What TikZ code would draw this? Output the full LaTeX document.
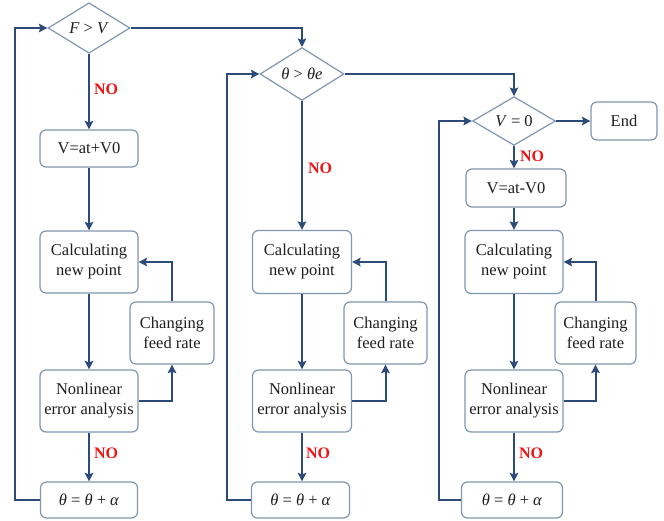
\documentclass[tikz,border=0pt]{standalone}
\usepackage{fontspec}
\setmainfont{Liberation Serif}
\usetikzlibrary{shapes.geometric,arrows.meta}
\definecolor{lnavy}{RGB}{44,74,122}
\definecolor{bord}{RGB}{128,150,178}
\definecolor{txt}{RGB}{30,30,30}
\definecolor{nored}{RGB}{240,20,20}
\begin{document}
\begin{tikzpicture}[x=1pt,y=-1pt,
 box/.style={draw=bord,line width=1.2pt,rounded corners=6pt,fill=white,text=txt,align=center,inner sep=0pt,font=\fontsize{16.5}{20}\selectfont},
 dia/.style={diamond,draw=bord,line width=1.2pt,inner sep=0pt,fill=white,text=txt,font=\fontsize{16.5}{19}\selectfont},
 conn/.style={draw=lnavy,line width=2pt,-{Stealth[length=8.5pt,width=8.5pt,inset=1.5pt]}},
 nolab/.style={text=nored,font=\bfseries\fontsize{16}{18}\selectfont,inner sep=0pt}]
\useasboundingbox[fill=white] (0,0) rectangle (664,520);

% column 1
\node[dia,minimum width=82pt,minimum height=47pt] (d1) at (89,28) {\textit{F} > \textit{V}};
\node[box,minimum width=98pt,minimum height=37pt] (b1) at (89,148.5) {V=at+V0};
\node[box,minimum width=98pt,minimum height=62pt] (calc1) at (89,262) {Calculating\\new point};
\node[box,minimum width=84pt,minimum height=62pt] (chg1) at (172,333) {Changing\\feed rate};
\node[box,minimum width=98pt,minimum height=62pt] (non1) at (89,401) {Nonlinear\\error analysis};
\node[box,minimum width=97pt,minimum height=36pt] (th1) at (89,500) {\textit{θ} = \textit{θ} + \textit{α}};
\coordinate (l1) at (15,28);

% column 2
\node[dia,minimum width=84pt,minimum height=48pt] (d2) at (302,74) {\textit{θ} > \textit{θe}};
\node[box,minimum width=99pt,minimum height=63pt] (calc2) at (302,262) {Calculating\\new point};
\node[box,minimum width=83pt,minimum height=62pt] (chg2) at (385.5,333) {Changing\\feed rate};
\node[box,minimum width=99pt,minimum height=62pt] (non2) at (302,401) {Nonlinear\\error analysis};
\node[box,minimum width=98pt,minimum height=36pt] (th2) at (300.5,500) {\textit{θ} = \textit{θ} + \textit{α}};
\coordinate (l2) at (227,74);

% column 3
\node[dia,minimum width=83pt,minimum height=46pt] (d3) at (514,121) {\textit{V} = 0};
\node[box,minimum width=66pt,minimum height=38pt] (end) at (624,121) {End};
\node[box,minimum width=100pt,minimum height=38pt] (b3) at (516,188) {V=at-V0};
\node[box,minimum width=98pt,minimum height=63pt] (calc3) at (514,262) {Calculating\\new point};
\node[box,minimum width=81pt,minimum height=62pt] (chg3) at (595.5,333) {Changing\\feed rate};
\node[box,minimum width=98pt,minimum height=62pt] (non3) at (514,401) {Nonlinear\\error analysis};
\node[box,minimum width=101pt,minimum height=36pt] (th3) at (512,500) {\textit{θ} = \textit{θ} + \textit{α}};
\coordinate (l3) at (439,121);

% connectors column 1
\draw[conn] (d1.south) -- (b1.north);
\draw[conn] (b1.south) -- (calc1.north);
\draw[conn] (calc1.south) -- (non1.north);
\draw[conn] (non1.south) -- (th1.north);
\draw[conn] (non1.east) -| (chg1.south);
\draw[conn] (chg1.north) |- (calc1.east);
\draw[conn] (th1.west) -- (th1.west -| l1) -- (l1) -- (d1.west);
\draw[conn] (d1.east) -| (d2.north);

% connectors column 2
\draw[conn] (d2.south) -- (calc2.north);
\draw[conn] (calc2.south) -- (non2.north);
\draw[conn] (non2.south) -- (non2.south |- th2.north);
\draw[conn] (non2.east) -| (chg2.south);
\draw[conn] (chg2.north) |- (calc2.east);
\draw[conn] (th2.west) -- (th2.west -| l2) -- (l2) -- (d2.west);
\draw[conn] (d2.east) -| (d3.north);

% connectors column 3
\draw[conn] (d3.east) -- (end.west);
\draw[conn] (d3.south) -- (d3.south |- b3.north);
\draw[conn] (d3.south |- b3.south) -- (calc3.north);
\draw[conn] (calc3.south) -- (non3.north);
\draw[conn] (non3.south) -- (non3.south |- th3.north);
\draw[conn] (non3.east) -| (chg3.south);
\draw[conn] (chg3.north) |- (calc3.east);
\draw[conn] (th3.west) -- (th3.west -| l3) -- (l3) -- (d3.west);

% NO labels
\node[nolab] (no1) at (106,89) {NO};
\node[nolab] (no2) at (106,453) {NO};
\node[nolab] (no3) at (320,168) {NO};
\node[nolab] (no4) at (318,453) {NO};
\node[nolab] (no5) at (532,156) {NO};
\node[nolab] (no6) at (531,453) {NO};
\end{tikzpicture}
\end{document}
